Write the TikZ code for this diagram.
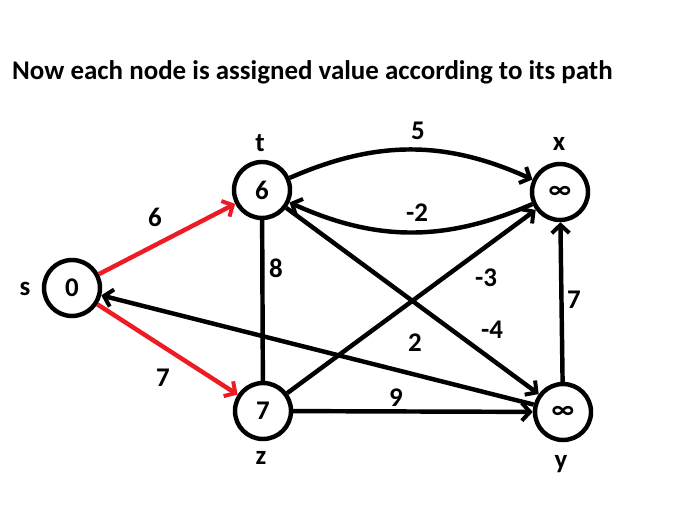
\documentclass[tikz,border=0pt]{standalone}
\usepackage{fontspec}
\setmainfont{Carlito}
\usetikzlibrary{arrows.meta}
\definecolor{pred}{rgb}{0.93, 0.11, 0.14}
\tikzset{vert/.style = {draw, circle, line width=3.8pt, minimum size=1.68cm,
                        inner sep=0pt, font=\fontsize{23}{23}\bfseries\selectfont}}
\tikzset{txt/.style = {font=\fontsize{23}{23}\bfseries\selectfont, inner sep=0pt}}
\tikzset{edge/.style = {line width=3.8pt,
                        -{Straight Barb[length=7pt, width=15pt, line width=3.4pt]}}}

\begin{document}
\begin{tikzpicture}[x=0.03cm, y=0.03cm]
    \useasboundingbox (0, 0) rectangle (683, 512);

    \node [txt, anchor=west] (title) at (12, 440) {Now each node is assigned value according to its path};

    \node [vert] (s) at (72, 224) {0};
    \node [vert] (t) at (262, 322) {6};
    \node [vert] (x) at (560, 320) {∞};
    \node [vert] (z) at (263, 101) {7};
    \node [vert] (y) at (563, 100) {∞};

    \node [txt] (ls) at (25, 223) {s};
    \node [txt] (lt) at (260, 369) {t};
    \node [txt] (lx) at (559, 368) {x};
    \node [txt] (lz) at (261, 54) {z};
    \node [txt] (ly) at (561, 48) {y};

    \draw [edge, pred] (s) -- (t);
    \draw [edge, pred] (s) -- (z);
    \draw [edge] (t) to [bend left=24] (x);
    \draw [edge] (x) to [bend left=24] (t);
    \draw [line width=3.8pt] (t) -- (z);
    \draw [edge] (t) -- (y);
    \draw [edge] (z) -- (x);
    \draw [edge] (z) -- (y);
    \draw [edge] (y) -- (x);
    \draw [edge] (y) -- (s);

    \node [txt] (w1) at (155, 295) {6};
    \node [txt] (w2) at (163, 134) {7};
    \node [txt] (w3) at (418, 381) {5};
    \node [txt] (w4) at (417, 299) {-2};
    \node [txt] (w5) at (276, 244) {8};
    \node [txt] (w6) at (486, 234) {-3};
    \node [txt] (w7) at (492, 182) {-4};
    \node [txt] (w8) at (415, 169) {2};
    \node [txt] (w9) at (396, 114) {9};
    \node [txt] (w10) at (574, 212) {7};
  \end{tikzpicture}
\end{document}
